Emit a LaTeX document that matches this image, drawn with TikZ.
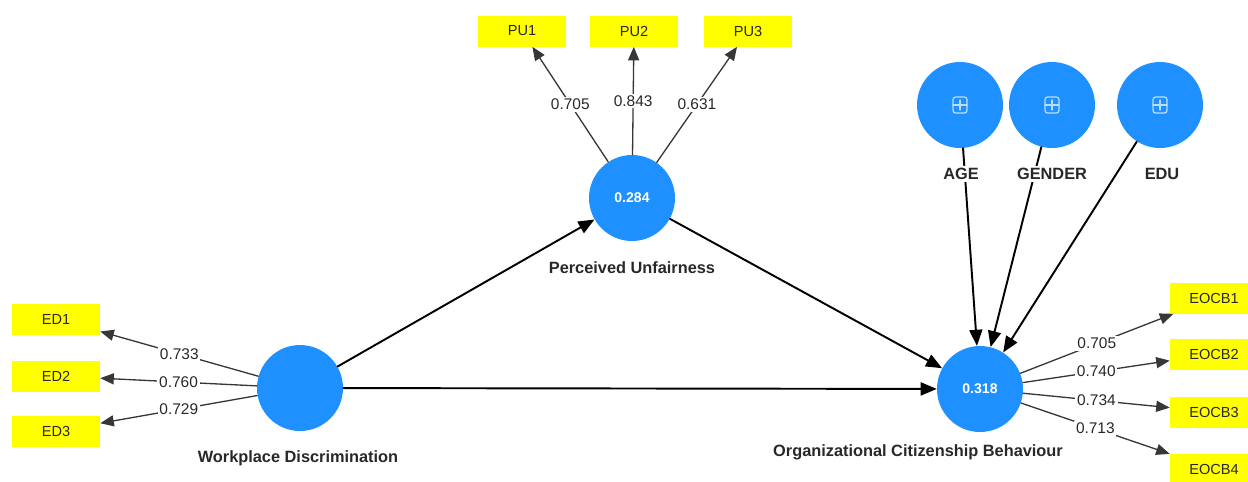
\documentclass[tikz,border=0pt]{standalone}
\usepackage{fontspec}
\setmainfont{Liberation Sans}
\usetikzlibrary{arrows,positioning}
\definecolor{lvblue}{RGB}{30,144,255}
\definecolor{mvyellow}{RGB}{255,255,0}
\definecolor{txtgray}{RGB}{40,40,40}
\definecolor{indgray}{RGB}{55,55,55}
\newcommand{\addicon}[1]{%
	\draw[white!70!lvblue,line width=0.7pt,rounded corners=1.5pt] (#1.center) ++(-7,-8) rectangle ++(14,16);
	\draw[white!70!lvblue,line width=0.7pt] (#1.center) ++(-7,0) -- ++(14,0);
	\draw[white!70!lvblue,line width=0.7pt] (#1.center) ++(0,-5) -- ++(0,10);}

\begin{document}
\begin{tikzpicture}[line cap=round,line join=round,>=triangle 45,x=0.02cm,y=-0.02cm,
	latent/.style={circle,fill=lvblue,minimum size=1.72cm,inner sep=0pt,text=white,font=\fontsize{8}{9}\selectfont\bfseries},
	indicator/.style={rectangle,fill=mvyellow,minimum width=1.76cm,minimum height=0.62cm,inner sep=0pt,text=txtgray,font=\fontsize{8.3}{9}\selectfont},
	lvname/.style={fill=white,inner sep=1pt,text=txtgray,font=\fontsize{9.3}{11}\selectfont\bfseries},
	structpath/.style={->,line width=1.1pt,draw=black},
	loading/.style={->,line width=0.75pt,draw=indgray},
	coef/.style={fill=white,inner sep=1pt,text=txtgray,font=\fontsize{8.8}{10}\selectfont}]
		\useasboundingbox (0,0) rectangle (1248,481);
		\node[latent] (wd) at (300,388) {};
		\node[latent] (pu) at (632,198) {0.284};
		\node[latent] (ocb) at (980,389) {0.318};
		\node[latent] (age) at (960,105) {};
		\node[latent] (gender) at (1052,105) {};
		\node[latent] (edu) at (1160,105) {};
		\addicon{age}
		\addicon{gender}
		\addicon{edu}
		\node[indicator] (ed1) at (56,319) {ED1};
		\node[indicator] (ed2) at (56,376) {ED2};
		\node[indicator] (ed3) at (56,431) {ED3};
		\node[indicator] (pu1) at (522,31) {PU1};
		\node[indicator] (pu2) at (634,31) {PU2};
		\node[indicator] (pu3) at (748,31) {PU3};
		\node[indicator] (eocb1) at (1214,298) {EOCB1};
		\node[indicator] (eocb2) at (1214,354) {EOCB2};
		\node[indicator] (eocb3) at (1214,412) {EOCB3};
		\node[indicator] (eocb4) at (1214,469) {EOCB4};
		\draw[structpath] (wd) -- (pu);
		\draw[structpath] (wd) -- (ocb);
		\draw[structpath] (pu) -- (ocb);
		\draw[structpath] (age) -- (ocb);
		\draw[structpath] (gender) -- (ocb);
		\draw[structpath] (edu) -- (ocb);
		\draw[loading] (wd) -- node[coef] {0.733} (ed1);
		\draw[loading] (wd) -- node[coef] {0.760} (ed2);
		\draw[loading] (wd) -- node[coef] {0.729} (ed3);
		\draw[loading] (pu) -- node[coef] {0.705} (pu1);
		\draw[loading] (pu) -- node[coef] {0.843} (pu2);
		\draw[loading] (pu) -- node[coef] {0.631} (pu3);
		\draw[loading] (ocb) -- node[coef] {0.705} (eocb1);
		\draw[loading] (ocb) -- node[coef] {0.740} (eocb2);
		\draw[loading] (ocb) -- node[coef] {0.734} (eocb3);
		\draw[loading] (ocb) -- node[coef] {0.713} (eocb4);
		\node[lvname] (wdname) at (298,458) {Workplace Discrimination};
		\node[lvname] (puname) at (632,268) {Perceived Unfairness};
		\node[lvname] (ocbname) at (918,452) {Organizational Citizenship Behaviour};
		\node[lvname] (agename) at (961,174) {AGE};
		\node[lvname] (gendername) at (1052,174) {GENDER};
		\node[lvname] (eduname) at (1162,174) {EDU};
	\end{tikzpicture}
\end{document}
